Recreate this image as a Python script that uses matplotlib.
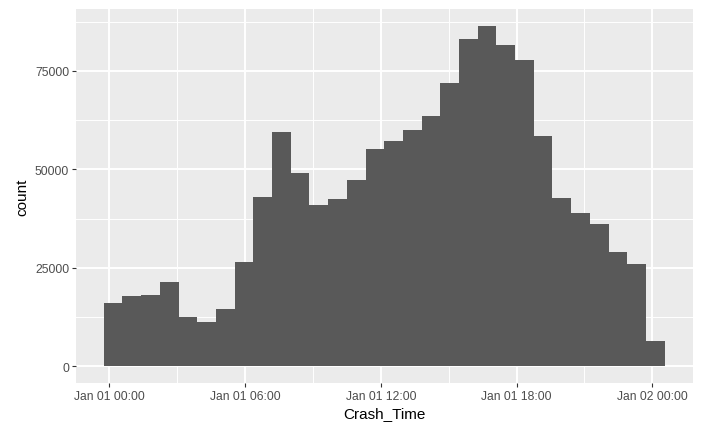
import datetime as dt
import matplotlib
matplotlib.use("Agg")
import matplotlib.pyplot as plt
import matplotlib.dates as mdates

# histogram of crash times (30 bins), counts
counts = [15960, 17730, 17985, 21280, 12490, 11220, 14440, 26420, 43060, 59530,
          48970, 41030, 42550, 47370, 55220, 57250, 60030, 63580, 71940, 83080,
          86380, 81560, 77760, 58510, 42810, 39010, 36220, 29130, 26090, 6330]
bin_start_h = -0.252      # left edge of first bin, hours after Jan 01 00:00
bin_width_h = 0.8267      # bin width in hours

base = dt.datetime(2020, 1, 1)
lefts = [base + dt.timedelta(hours=bin_start_h + i * bin_width_h) for i in range(len(counts))]
width_days = bin_width_h / 24

plt.rcParams['font.family'] = ['Liberation Sans', 'DejaVu Sans']

fig = plt.figure(figsize=(7.06, 4.39), dpi=100)
ax = fig.add_axes([75.7 / 706, 1 - 384.3 / 439, (692.7 - 75.7) / 706, (384.3 - 10) / 439])
ax.set_facecolor('#EBEBEB')

ax.bar(mdates.date2num(lefts), counts, width=width_days, align='edge',
       color='#595959', linewidth=0, zorder=3)

x0 = mdates.date2num(lefts[0])
x1 = mdates.date2num(lefts[-1]) + width_days
pad = (x1 - x0) * 0.05
ax.set_xlim(x0 - pad, x1 + pad)
ymax = max(counts)
ax.set_ylim(-ymax * 0.05, ymax * 1.05)

major_x = [base + dt.timedelta(hours=h) for h in range(0, 25, 6)]
minor_x = [base + dt.timedelta(hours=h) for h in range(3, 24, 6)]
ax.set_xticks(mdates.date2num(major_x))
ax.set_xticks(mdates.date2num(minor_x), minor=True)
ax.set_xticklabels([d.strftime('%b %d %H:%M') for d in major_x])
ax.set_yticks([0, 25000, 50000, 75000])
ax.set_yticks([12500, 37500, 62500, 87500], minor=True)

ax.grid(which='major', color='white', linewidth=1.4, zorder=0)
ax.grid(which='minor', color='white', linewidth=0.7, zorder=0)
ax.set_axisbelow(True)
for s in ax.spines.values():
    s.set_visible(False)

ax.tick_params(which='major', length=2.7, width=0.8, color='#333333',
               labelcolor='#4D4D4D', labelsize=8.7, pad=2)
ax.tick_params(which='minor', length=0)

ax.set_xlabel('Crash_Time', fontsize=11, color='black', labelpad=3)
ax.set_ylabel('count', fontsize=11, color='black', labelpad=4)

fig.savefig('out.png', dpi=100)
